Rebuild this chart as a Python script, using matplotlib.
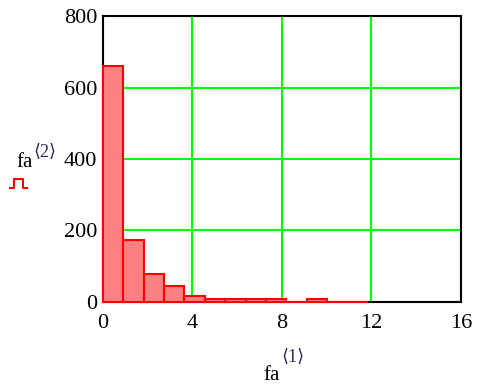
import numpy as np
import matplotlib
matplotlib.use('Agg')
import matplotlib.pyplot as plt
from matplotlib.lines import Line2D

# histogram of fa<1> (bin starts) against counts fa<2>
bin_width = 0.91
bin_starts = [0.0, 0.91, 1.82, 2.73, 3.64, 4.55, 5.46, 6.37, 7.28, 8.19, 9.10, 10.01, 10.92]
counts = [660, 173, 77, 46, 17, 8, 8, 8, 8, 0, 9, 0, 0]

x_ticks = [0, 4, 8, 12, 16]
y_ticks = [0, 200, 400, 600, 800]

serif = ['Liberation Serif', 'DejaVu Serif']
plt.rcParams['font.family'] = serif

fig = plt.figure(figsize=(4.82, 3.85), dpi=100)
ax = fig.add_axes([0.2137, 0.2156, 0.7427, 0.7428])

ax.bar(bin_starts, counts, width=bin_width, align='edge',
       color='#ff8080', edgecolor='#ff0000', linewidth=1.5, zorder=3, clip_on=False)

ax.set_xlim(0, 16)
ax.set_ylim(0, 800)
ax.set_xticks(x_ticks)
ax.set_yticks(y_ticks)
ax.tick_params(length=0, labelsize=16, pad=4)
ax.tick_params(axis='x', pad=9)

ax.grid(True, color='#00ff00', linewidth=1.5)
ax.set_axisbelow(True)
for s in ax.spines.values():
    s.set_linewidth(1.5)
    s.set_color('black')

# axis labels in Mathcad style
fig.text(263 / 482, 1 - 380 / 385, 'fa', fontsize=15, ha='left', va='baseline')
fig.text(281 / 482, 1 - 362 / 385, '\u27e81\u27e9', fontsize=13, ha='left', va='baseline',
         family=['Liberation Serif', 'DejaVu Sans'], color='#2a2a60')
fig.text(16 / 482, 1 - 167 / 385, 'fa', fontsize=15, ha='left', va='baseline')
fig.text(33 / 482, 1 - 157 / 385, '\u27e82\u27e9', fontsize=13, ha='left', va='baseline',
         family=['Liberation Serif', 'DejaVu Sans'], color='#2a2a60')

# red trace marker under the y label
sx = np.array([10, 14, 14, 23, 23, 27]) / 482
sy = 1 - np.array([188, 188, 179, 179, 188, 188]) / 385
fig.add_artist(Line2D(sx, sy, color='#ff0000', linewidth=1.5, transform=fig.transFigure))

fig.savefig('out.png', dpi=100)
